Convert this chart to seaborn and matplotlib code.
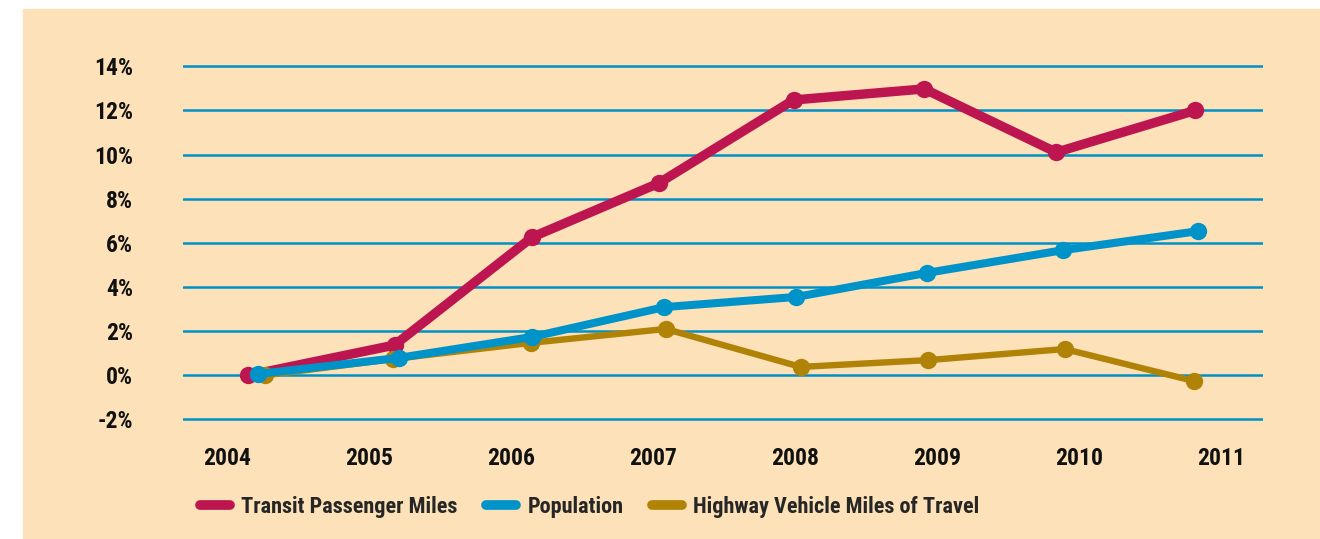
import pandas as pd
import matplotlib
matplotlib.use('Agg')
import matplotlib.pyplot as plt
from matplotlib.lines import Line2D
from matplotlib.patches import Rectangle
import seaborn as sns

# values (percent change since 2004)
years = [2004, 2005, 2006, 2007, 2008, 2009, 2010, 2011]
series_names = ['Transit Passenger Miles', 'Population', 'Highway Vehicle Miles of Travel']

# markers in the original sit slightly off the year ticks, so keep their x too
transit_x = [2004.15, 2005.18, 2006.15, 2007.04, 2007.99, 2008.91, 2009.84, 2010.82]
transit = [0.0, 1.37, 6.26, 8.7, 12.47, 12.97, 10.1, 12.0]

population_x = [2004.22, 2005.21, 2006.15, 2007.08, 2008.01, 2008.93, 2009.89, 2010.84]
population = [0.06, 0.79, 1.74, 3.09, 3.55, 4.64, 5.67, 6.53]

highway_x = [2004.27, 2005.17, 2006.14, 2007.09, 2008.04, 2008.94, 2009.90, 2010.81]
highway = [0.0, 0.74, 1.47, 2.1, 0.38, 0.69, 1.19, -0.26]

y_ticks = [-2, 0, 2, 4, 6, 8, 10, 12, 14]

colors = {'Transit Passenger Miles': '#BD1550',
          'Population': '#0093C9',
          'Highway Vehicle Miles of Travel': '#B08307'}
widths = {'Transit Passenger Miles': 6.8,
          'Population': 5.8,
          'Highway Vehicle Miles of Travel': 4.6}
peach = '#FDE2B9'
grid_blue = '#0090C8'
fonts = ['Roboto Condensed', 'Archivo Narrow', 'DejaVu Sans']

df = pd.concat([
    pd.DataFrame({'x': transit_x, 'y': transit, 'series': series_names[0]}),
    pd.DataFrame({'x': population_x, 'y': population, 'series': series_names[1]}),
    pd.DataFrame({'x': highway_x, 'y': highway, 'series': series_names[2]}),
])

sns.set_style('white')
plt.rcParams['font.family'] = fonts
plt.rcParams['font.weight'] = 'bold'

fig = plt.figure(figsize=(13.2, 5.39), dpi=100)
fig.patch.set_facecolor('white')
fig.patches.append(Rectangle((23 / 1320, 0), 1, (539 - 9) / 539,
                             transform=fig.transFigure, color=peach, zorder=-10))

ax = fig.add_axes([183 / 1320, 114 / 539, 1080 / 1320, 365 / 539])
ax.set_facecolor('none')

# draw order: red at the back, blue on top
for name, z in [(series_names[0], 3), (series_names[2], 4), (series_names[1], 5)]:
    sub = df[df['series'] == name]
    sns.lineplot(data=sub, x='x', y='y', ax=ax, color=colors[name],
                 linewidth=widths[name], marker='o', markersize=12.5,
                 markeredgewidth=0, sort=False, estimator=None,
                 solid_joinstyle='round', solid_capstyle='round',
                 legend=False, zorder=z, clip_on=False)

ax.set_xlim(2003.69, 2011.296)
ax.set_ylim(-2.25, 14.28)
ax.set_xticks(years)
ax.set_xticklabels([str(y) for y in years])
ax.set_yticks(y_ticks)
ax.set_yticklabels([f'{t}%' for t in y_ticks])
ax.tick_params(axis='both', length=0, labelsize=17, labelcolor='#111111')
ax.tick_params(axis='y', pad=36)
ax.tick_params(axis='x', pad=16)
for lab in ax.get_xticklabels() + ax.get_yticklabels():
    lab.set_fontweight('bold')
    lab.set_family(fonts)

ax.yaxis.grid(True, color=grid_blue, linewidth=1.8, zorder=1)
ax.xaxis.grid(False)
ax.set_axisbelow(True)
sns.despine(ax=ax, left=True, bottom=True)
ax.set_xlabel('')
ax.set_ylabel('')

handles = [Line2D([0], [0], color=colors[n], linewidth=7, solid_capstyle='round')
           for n in series_names]
fig.legend(handles, series_names, loc='center left',
           bbox_to_anchor=(200 / 1320, (539 - 507) / 539),
           ncol=3, frameon=False, handlelength=1.35, handletextpad=0.5,
           columnspacing=1.3, borderaxespad=0, borderpad=0,
           prop={'family': fonts, 'weight': 'bold', 'size': 16})

fig.savefig('out.png', dpi=100)
